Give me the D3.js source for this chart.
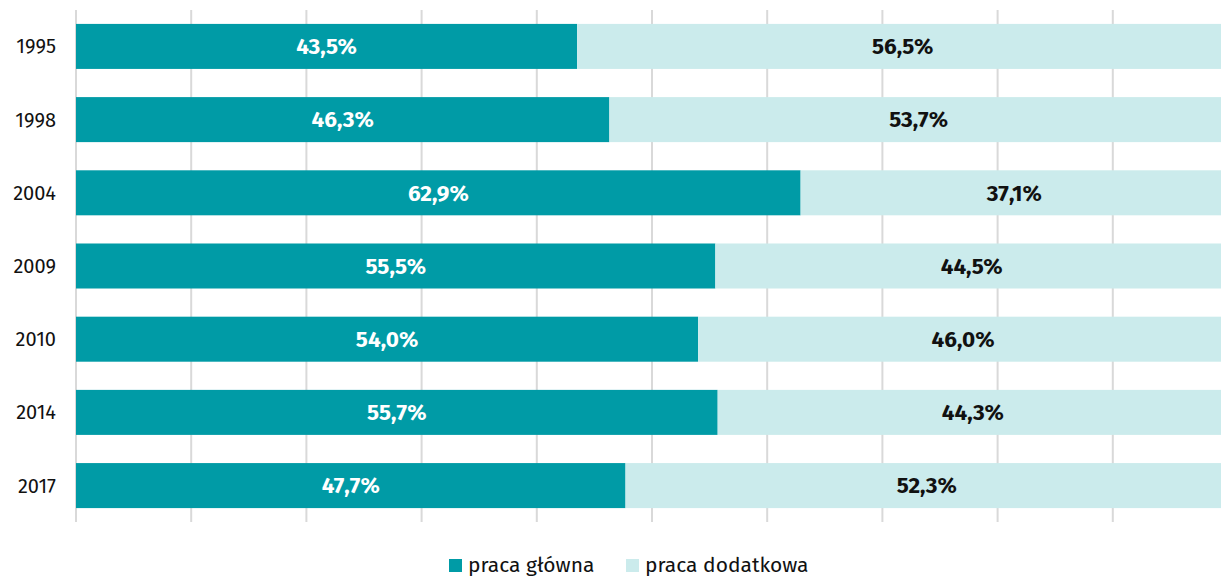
<!DOCTYPE html>
<html>
<head>
<meta charset="utf-8">
<script src="https://cdn.jsdelivr.net/npm/d3@7"></script>
<style>
  body { margin: 0; background: #fff; overflow: hidden; }
  text { font-family: "Fira Sans", "Open Sans", "Noto Sans", sans-serif; }
</style>
</head>
<body>
<div id="vis1"></div>
<script>
// data
let years = ['1995', '1998', '2004', '2009', '2010', '2014', '2017'];
let mainWork = [43.5, 46.3, 62.9, 55.5, 54.0, 55.7, 47.7];
let sideWork = [56.5, 53.7, 37.1, 44.5, 46.0, 44.3, 52.3];
let seriesNames = ['praca główna', 'praca dodatkowa'];
let colors = ['#009ba6', '#cbebec'];
let labelColors = ['#ffffff', '#111111'];
let gridTicks = d3.range(0, 101, 10);

let width = 1221, height = 578;

let svg = d3.select('#vis1')
  .append('svg')
  .attr('width', width)
  .attr('height', height)
  .style('display', 'block');

let x = d3.scaleLinear().domain([0, 100]).range([76, 1228]);
let y = d3.scaleBand().domain(years).range([10, 522]).paddingInner(0.385).paddingOuter(0.19);

// vertical gridlines
svg.append('g')
  .selectAll('line')
  .data(gridTicks)
  .join('line')
  .attr('x1', d => x(d))
  .attr('x2', d => x(d))
  .attr('y1', 10)
  .attr('y2', 522)
  .attr('stroke', '#d9d9d9')
  .attr('stroke-width', 2);

let rows = years.map((yr, i) => ({ year: yr, vals: [mainWork[i], sideWork[i]] }));

let segs = [];
rows.forEach(r => {
  let acc = 0;
  r.vals.forEach((v, k) => {
    segs.push({ year: r.year, k: k, v: v, x0: acc, x1: acc + v });
    acc += v;
  });
});

svg.append('g')
  .selectAll('rect')
  .data(segs)
  .join('rect')
  .attr('x', d => x(d.x0))
  .attr('y', d => y(d.year))
  .attr('width', d => x(d.x1) - x(d.x0))
  .attr('height', y.bandwidth())
  .attr('fill', d => colors[d.k]);

svg.append('g')
  .selectAll('text')
  .data(segs)
  .join('text')
  .attr('x', d => (x(d.x0) + x(d.x1)) / 2)
  .attr('y', d => y(d.year) + y.bandwidth() / 2)
  .attr('dy', '0.35em')
  .attr('text-anchor', 'middle')
  .attr('font-size', 22.5)
  .attr('font-weight', 'bold')
  .attr('fill', d => labelColors[d.k])
  .text(d => d.v.toFixed(1).replace('.', ',') + '%');

// year axis labels
svg.append('g')
  .selectAll('text')
  .data(years)
  .join('text')
  .attr('x', 56)
  .attr('y', d => y(d) + y.bandwidth() / 2)
  .attr('dy', '0.35em')
  .attr('text-anchor', 'end')
  .attr('font-size', 20)
  .attr('fill', '#111')
  .text(d => d);

// legend
let legendX = [449, 626];
let lg = svg.append('g')
  .selectAll('g')
  .data(seriesNames)
  .join('g')
  .attr('transform', (d, i) => 'translate(' + legendX[i] + ',559)');

lg.append('rect')
  .attr('width', 13)
  .attr('height', 13)
  .attr('fill', (d, i) => colors[i]);

lg.append('text')
  .attr('x', 19)
  .attr('y', 13)
  .attr('font-size', 21)
  .attr('fill', '#111')
  .text(d => d);
</script>
</body>
</html>
